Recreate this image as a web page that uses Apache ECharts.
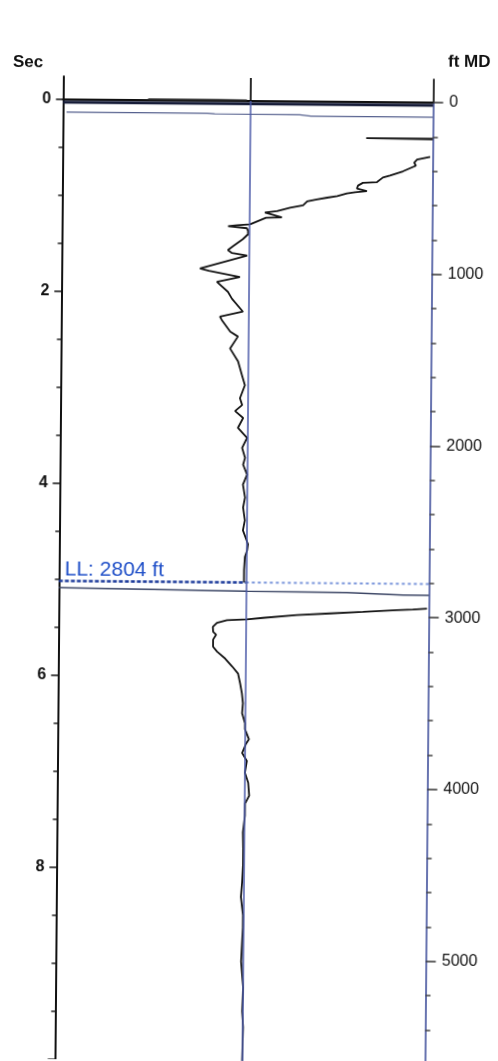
<!DOCTYPE html>
<html>
<head>
<meta charset="utf-8">
<script src="https://cdn.jsdelivr.net/npm/echarts@6/dist/echarts.min.js"></script>
<style>
  html, body { margin: 0; padding: 0; background: #fff; overflow: hidden; }
  #chart { width: 498px; height: 1061px; transform: rotate(0.49deg); transform-origin: 249px 530.5px; }
</style>
</head>
<body>
<div id="chart"></div>
<script>
// ---- data (amplitude 0..100 across the track, depth in ft MD) ----
const secRange = [0, 10];
const secInterval = 2;
const ftRange = [0, 5590];
const ftInterval = 1000;
const headerRange = [-135, 0];
const centerAmp = 50.5;
const llDepth = 2804;
const llLabel = 'LL: 2804 ft';
const leftTitle = 'Sec';
const rightTitle = 'ft MD';

const headerSpike = [[49.7, -2], [42, -1.5], [23, -5], [42, -4], [49.7, -3]];
const topLine = [[0, 15.6], [100, 15.6]];
const casingLine = [[1, 73], [39, 74], [41, 77], [64, 78], [67, 85], [100, 85]];
const spike212 = [[100, 211], [82, 210], [94, 213], [100, 215]];
const trace1 = [[99.3,317],[95.8,333],[95.0,351],[95.5,368],[92.0,402],[88.5,427],[86.6,439],[85.0,466],[81.2,471],[79.9,487],[79.6,504],[82.3,519],[79.1,526],[76.9,534],[74.3,550],[71.6,559],[68.8,570],[66.2,582],[65.1,605],[61.6,619],[58.1,640],[54.8,649],[59.4,676],[55.1,679],[50.8,718],[47.3,724],[44.9,730],[50.0,741],[50.3,758],[50.3,776],[48.9,805],[46.3,846],[44.9,869],[46.0,886],[50.1,900],[37.4,978],[39.8,991],[48.2,1025],[42.0,1055],[45.0,1112],[46.1,1152],[49.1,1227],[42.9,1257],[43.5,1280],[45.7,1344],[47.8,1372],[45.7,1442],[47.9,1517],[49.0,1598],[49.8,1655],[48.5,1731],[49.1,1771],[47.2,1806],[49.4,1846],[48.0,1904],[50.5,1962],[49.2,2020],[50.0,2078],[49.5,2118],[50.6,2176],[49.5,2234],[50.1,2309],[49.6,2367],[50.1,2442],[49.6,2500],[51.0,2581],[50.8,2616],[50.2,2656],[50.0,2731],[50.0,2795],[50.0,2804]];
const shoeLine = [[0, 2843], [50.8, 2855], [77.8, 2858], [93, 2869], [100, 2869]];
const trace2 = [[99.5,2947],[95.7,2953],[91.4,2957],[82.2,2969],[73.3,2980],[64.4,2991],[55.2,3009],[50.9,3019],[45.5,3024],[42.8,3040],[41.7,3064],[41.8,3093],[42.6,3109],[41.8,3138],[41.8,3179],[42.9,3208],[45.1,3248],[47.0,3293],[48.6,3334],[49.2,3392],[49.7,3449],[50.0,3507],[49.8,3565],[50.6,3623],[50.6,3658],[51.7,3716],[50.9,3745],[49.9,3797],[51.2,3843],[50.7,3912],[51.6,3970],[51.9,4045],[50.8,4091],[50.8,4161],[50.3,4259],[50.4,4352],[50.4,4450],[50.2,4548],[49.9,4635],[50.5,4740],[50.5,4815],[50.1,5011],[50.7,5162],[50.5,5301],[50.8,5394],[50.6,5590]];

const chart = echarts.init(document.getElementById('chart'), null, { renderer: 'canvas' });

function lineSeries(name, data, color, width, xi, yi, type) {
  return {
    name, type: 'line', data, xAxisIndex: xi, yAxisIndex: yi,
    symbol: 'none', silent: true, animation: false,
    lineStyle: { color, width, type: type || 'solid' },
    z: 3
  };
}
const plain = v => String(v);

const option = {
  animation: false,
  backgroundColor: '#fff',
  grid: [
    { left: 59.3, right: 68.5, top: 78, height: 23 },
    { left: 59.3, right: 68.5, top: 101, height: 966 }
  ],
  xAxis: [
    { gridIndex: 0, type: 'value', min: 0, max: 100, position: 'top',
      axisLine: { show: true, lineStyle: { color: '#111', width: 2 } },
      axisTick: { show: false }, axisLabel: { show: false }, splitLine: { show: false } },
    { gridIndex: 1, type: 'value', min: 0, max: 100, show: false }
  ],
  yAxis: [
    { gridIndex: 0, type: 'value', inverse: true, min: headerRange[0], max: headerRange[1], position: 'left',
      axisLine: { show: true, onZero: false, lineStyle: { color: '#111', width: 2 } },
      axisTick: { show: false }, axisLabel: { show: false }, splitLine: { show: false } },
    { gridIndex: 0, type: 'value', inverse: true, min: headerRange[0], max: headerRange[1], position: 'right',
      axisLine: { show: true, onZero: false, lineStyle: { color: '#333', width: 2 } },
      axisTick: { show: false }, axisLabel: { show: false }, splitLine: { show: false } },
    { gridIndex: 1, type: 'value', inverse: true, min: secRange[0], max: secRange[1], interval: secInterval,
      position: 'left',
      axisLine: { show: true, onZero: false, lineStyle: { color: '#111', width: 2 } },
      axisTick: { show: true, length: 7, lineStyle: { color: '#111', width: 1.5 } },
      minorTick: { show: true, splitNumber: 4, length: 4, lineStyle: { color: '#222', width: 1.5 } },
      axisLabel: { show: true, margin: 12, showMaxLabel: false, color: '#111', formatter: plain,
        fontFamily: 'Liberation Sans, Arial, sans-serif', fontWeight: 'bold', fontSize: 16 },
      splitLine: { show: false } },
    { gridIndex: 1, type: 'value', inverse: true, min: ftRange[0], max: ftRange[1], interval: ftInterval,
      position: 'right',
      axisLine: { show: true, onZero: false, lineStyle: { color: '#6874b0', width: 2 } },
      axisTick: { show: true, length: 10, lineStyle: { color: '#333', width: 1.5 } },
      minorTick: { show: true, splitNumber: 5, length: 5, lineStyle: { color: '#444', width: 1.5 } },
      axisLabel: { show: true, margin: 16, showMaxLabel: false, color: '#111', formatter: plain,
        fontFamily: 'Liberation Sans, Arial, sans-serif', fontSize: 16 },
      splitLine: { show: false } }
  ],
  series: [
    Object.assign(lineSeries('headerSpike', headerSpike, '#222', 2, 0, 0), {
      markLine: { silent: true, symbol: 'none', label: { show: false },
        lineStyle: { color: '#111', width: 1.8, type: 'solid' },
        data: [{ xAxis: centerAmp }] }
    }),
    Object.assign(lineSeries('centre', [], '#4b5aa8', 1.5, 1, 3), {
      markLine: { silent: true, symbol: 'none', label: { show: false },
        lineStyle: { color: '#4b5aa8', width: 1.5, type: 'solid' },
        data: [{ xAxis: centerAmp }] }
    }),
    lineSeries('topLine', topLine, '#161c38', 3, 1, 3),
    lineSeries('casingLine', casingLine, '#56618e', 1.3, 1, 3),
    lineSeries('spike', spike212, '#1a1a1a', 1.8, 1, 3),
    lineSeries('trace1', trace1, '#151515', 1.8, 1, 3),
    lineSeries('llLeft', [[0, llDepth], [centerAmp, llDepth]], '#1e3c9c', 2.6, 1, 3, [4, 2]),
    lineSeries('llRight', [[centerAmp, llDepth], [100, llDepth]], '#7d98dc', 2, 1, 3, [3, 3]),
    lineSeries('shoeLine', shoeLine, '#3d4766', 1.5, 1, 3),
    lineSeries('trace2', trace2, '#151515', 1.8, 1, 3)
  ],
  graphic: [
    { type: 'text', style: { text: leftTitle, x: 9, y: 64.5, verticalAlign: 'middle',
      font: 'bold 17px "Liberation Sans", Arial, sans-serif', fill: '#111' } },
    { type: 'text', style: { text: rightTitle, x: 444, y: 60.5, verticalAlign: 'middle',
      font: 'bold 17px "Liberation Sans", Arial, sans-serif', fill: '#111' } },
    { type: 'text', style: { text: llLabel, x: 65, y: 571.5, verticalAlign: 'middle',
      font: '21px "Liberation Sans", Arial, sans-serif', fill: '#1f4fc8' } }
  ]
};

chart.setOption(option);
</script>
</body>
</html>
